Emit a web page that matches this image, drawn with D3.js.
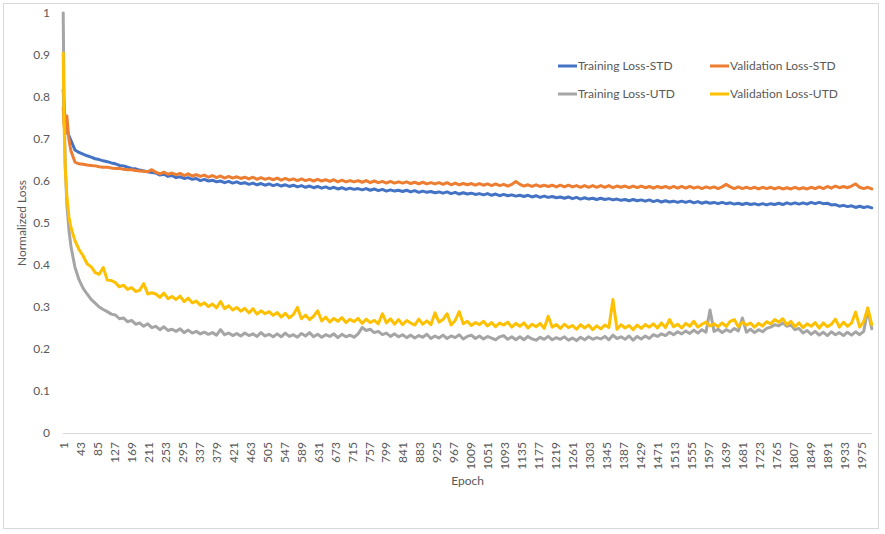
<!DOCTYPE html>
<html>
<head>
<meta charset="utf-8">
<script src="https://cdn.jsdelivr.net/npm/d3@7"></script>
<style>
  html, body { margin: 0; padding: 0; background: #fff; }
  svg { display: block; font-family: Lato, "Open Sans", "Noto Sans", sans-serif; }
</style>
</head>
<body>
<svg id="chart" width="885" height="534"></svg>
<script>
// ---------------- DATA ----------------
// Category axis: epochs 1..2000
const categories = d3.range(1, 2001);
const sampleEpochs = [1, 3, 6, 10, 15, 20].concat(d3.range(30, 2001, 10));

const xTickLabels = [1,43,85,127,169,211,253,295,337,379,421,463,505,547,589,631,673,715,757,799,841,883,925,967,1009,1051,1093,1135,1177,1219,1261,1303,1345,1387,1429,1471,1513,1555,1597,1639,1681,1723,1765,1807,1849,1891,1933,1975];
const yTickLabels = [0, 0.1, 0.2, 0.3, 0.4, 0.5, 0.6, 0.7, 0.8, 0.9, 1];

const seriesNames = ["Training Loss-STD", "Validation Loss-STD", "Training Loss-UTD", "Validation Loss-UTD"];
const seriesColors = ["#4472C4", "#ED7D31", "#A5A5A5", "#FFC000"];

const trainingSTD = [
  0.817, 0.780, 0.745, 0.722, 0.708, 0.697,
  0.674, 0.668, 0.664, 0.660, 0.657, 0.653, 0.651, 0.648, 0.646, 0.643,
  0.641, 0.637, 0.636, 0.633, 0.630, 0.629, 0.626, 0.624, 0.622, 0.620,
  0.619, 0.614, 0.616, 0.611, 0.613, 0.608, 0.610, 0.606, 0.608, 0.604,
  0.606, 0.601, 0.604, 0.600, 0.602, 0.598, 0.600, 0.596, 0.599, 0.595,
  0.598, 0.594, 0.596, 0.592, 0.595, 0.591, 0.594, 0.590, 0.593, 0.589,
  0.592, 0.588, 0.591, 0.587, 0.590, 0.586, 0.589, 0.585, 0.588, 0.584,
  0.587, 0.583, 0.586, 0.582, 0.585, 0.581, 0.584, 0.580, 0.583, 0.580,
  0.582, 0.579, 0.582, 0.578, 0.581, 0.577, 0.580, 0.576, 0.579, 0.576,
  0.578, 0.575, 0.578, 0.574, 0.577, 0.573, 0.576, 0.573, 0.575, 0.572,
  0.574, 0.571, 0.574, 0.570, 0.573, 0.569, 0.572, 0.569, 0.571, 0.568,
  0.570, 0.567, 0.570, 0.566, 0.569, 0.565, 0.568, 0.565, 0.567, 0.564,
  0.566, 0.563, 0.566, 0.562, 0.565, 0.561, 0.564, 0.561, 0.563, 0.560,
  0.562, 0.559, 0.562, 0.558, 0.561, 0.557, 0.560, 0.557, 0.559, 0.556,
  0.559, 0.556, 0.558, 0.555, 0.557, 0.554, 0.556, 0.553, 0.556, 0.553,
  0.555, 0.552, 0.555, 0.551, 0.554, 0.550, 0.553, 0.550, 0.552, 0.549,
  0.552, 0.549, 0.552, 0.548, 0.551, 0.547, 0.550, 0.547, 0.549, 0.546,
  0.549, 0.546, 0.548, 0.545, 0.547, 0.544, 0.547, 0.544, 0.546, 0.543,
  0.546, 0.543, 0.546, 0.544, 0.547, 0.544, 0.548, 0.545, 0.548, 0.545,
  0.548, 0.545, 0.549, 0.546, 0.549, 0.546, 0.547, 0.543, 0.544, 0.540,
  0.542, 0.539, 0.541, 0.537, 0.540, 0.537, 0.539, 0.536
];

const validationSTD = [
  0.775, 0.735, 0.712, 0.755, 0.700, 0.672,
  0.645, 0.641, 0.640, 0.638, 0.637, 0.636, 0.634, 0.633, 0.633, 0.631,
  0.630, 0.630, 0.628, 0.627, 0.627, 0.625, 0.624, 0.623, 0.622, 0.627,
  0.621, 0.617, 0.621, 0.616, 0.619, 0.615, 0.618, 0.613, 0.617, 0.612,
  0.615, 0.611, 0.614, 0.609, 0.613, 0.608, 0.612, 0.607, 0.611, 0.607,
  0.610, 0.606, 0.609, 0.605, 0.609, 0.604, 0.608, 0.604, 0.607, 0.603,
  0.607, 0.602, 0.606, 0.602, 0.605, 0.601, 0.605, 0.601, 0.604, 0.600,
  0.604, 0.600, 0.603, 0.599, 0.603, 0.598, 0.602, 0.598, 0.601, 0.598,
  0.601, 0.597, 0.601, 0.596, 0.600, 0.596, 0.599, 0.595, 0.599, 0.595,
  0.598, 0.595, 0.598, 0.594, 0.597, 0.593, 0.597, 0.593, 0.596, 0.593,
  0.596, 0.592, 0.596, 0.591, 0.595, 0.591, 0.594, 0.591, 0.594, 0.590,
  0.594, 0.590, 0.593, 0.589, 0.593, 0.589, 0.592, 0.588, 0.592, 0.599,
  0.592, 0.588, 0.591, 0.587, 0.591, 0.587, 0.590, 0.587, 0.590, 0.586,
  0.590, 0.586, 0.590, 0.586, 0.589, 0.585, 0.589, 0.585, 0.589, 0.585,
  0.589, 0.585, 0.589, 0.584, 0.588, 0.585, 0.588, 0.584, 0.588, 0.584,
  0.588, 0.584, 0.587, 0.583, 0.587, 0.584, 0.587, 0.583, 0.587, 0.583,
  0.587, 0.583, 0.587, 0.583, 0.586, 0.582, 0.586, 0.583, 0.586, 0.582,
  0.586, 0.592, 0.586, 0.582, 0.586, 0.582, 0.585, 0.582, 0.585, 0.581,
  0.585, 0.582, 0.585, 0.581, 0.585, 0.581, 0.584, 0.581, 0.585, 0.581,
  0.584, 0.581, 0.585, 0.582, 0.586, 0.582, 0.587, 0.583, 0.588, 0.584,
  0.587, 0.584, 0.588, 0.593, 0.585, 0.582, 0.585, 0.581
];

const trainingUTD = [
  1.000, 0.800, 0.640, 0.545, 0.485, 0.445,
  0.395, 0.365, 0.345, 0.331, 0.318, 0.309, 0.300, 0.294, 0.289, 0.283,
  0.281, 0.272, 0.274, 0.265, 0.268, 0.259, 0.262, 0.254, 0.260, 0.251,
  0.254, 0.246, 0.253, 0.244, 0.247, 0.242, 0.248, 0.239, 0.245, 0.238,
  0.242, 0.236, 0.240, 0.235, 0.239, 0.233, 0.246, 0.234, 0.238, 0.232,
  0.237, 0.231, 0.238, 0.232, 0.236, 0.230, 0.239, 0.231, 0.235, 0.229,
  0.236, 0.229, 0.238, 0.230, 0.234, 0.228, 0.237, 0.231, 0.239, 0.229,
  0.235, 0.228, 0.234, 0.230, 0.236, 0.227, 0.235, 0.229, 0.233, 0.228,
  0.236, 0.251, 0.244, 0.247, 0.239, 0.242, 0.234, 0.238, 0.230, 0.236,
  0.229, 0.234, 0.227, 0.233, 0.226, 0.232, 0.228, 0.235, 0.225, 0.231,
  0.226, 0.233, 0.225, 0.231, 0.227, 0.234, 0.224, 0.230, 0.233, 0.225,
  0.231, 0.224, 0.230, 0.226, 0.222, 0.229, 0.232, 0.223, 0.229, 0.222,
  0.229, 0.222, 0.230, 0.224, 0.221, 0.228, 0.223, 0.230, 0.222, 0.227,
  0.223, 0.229, 0.221, 0.226, 0.220, 0.228, 0.222, 0.229, 0.223, 0.227,
  0.224, 0.230, 0.222, 0.233, 0.225, 0.229, 0.223, 0.231, 0.221, 0.230,
  0.224, 0.231, 0.225, 0.234, 0.230, 0.236, 0.232, 0.240, 0.234, 0.241,
  0.236, 0.243, 0.237, 0.245, 0.238, 0.246, 0.240, 0.293, 0.242, 0.247,
  0.239, 0.246, 0.241, 0.249, 0.243, 0.274, 0.240, 0.247, 0.239, 0.246,
  0.241, 0.249, 0.252, 0.258, 0.255, 0.262, 0.254, 0.257, 0.246, 0.249,
  0.238, 0.244, 0.235, 0.242, 0.233, 0.240, 0.232, 0.241, 0.234, 0.239,
  0.232, 0.240, 0.233, 0.241, 0.234, 0.242, 0.293, 0.248
];

const validationUTD = [
  0.905, 0.740, 0.630, 0.565, 0.515, 0.490,
  0.458, 0.437, 0.422, 0.403, 0.396, 0.382, 0.378, 0.394, 0.364, 0.363,
  0.358, 0.348, 0.352, 0.342, 0.346, 0.337, 0.340, 0.356, 0.331, 0.334,
  0.331, 0.323, 0.333, 0.320, 0.325, 0.318, 0.326, 0.313, 0.321, 0.310,
  0.314, 0.304, 0.310, 0.301, 0.307, 0.298, 0.313, 0.296, 0.303, 0.293,
  0.299, 0.290, 0.297, 0.286, 0.296, 0.283, 0.291, 0.284, 0.289, 0.280,
  0.287, 0.276, 0.285, 0.274, 0.282, 0.299, 0.272, 0.281, 0.270, 0.278,
  0.291, 0.267, 0.276, 0.264, 0.273, 0.266, 0.275, 0.263, 0.271, 0.265,
  0.273, 0.261, 0.271, 0.263, 0.268, 0.260, 0.284, 0.262, 0.272, 0.259,
  0.270, 0.258, 0.268, 0.262, 0.257, 0.271, 0.259, 0.267, 0.258, 0.286,
  0.264, 0.270, 0.284, 0.257, 0.268, 0.289, 0.260, 0.266, 0.256, 0.263,
  0.258, 0.266, 0.255, 0.263, 0.253, 0.262, 0.257, 0.264, 0.252, 0.261,
  0.254, 0.262, 0.250, 0.259, 0.253, 0.261, 0.249, 0.278, 0.252, 0.258,
  0.249, 0.259, 0.251, 0.256, 0.247, 0.258, 0.250, 0.257, 0.246, 0.255,
  0.248, 0.257, 0.251, 0.318, 0.247, 0.258, 0.250, 0.256, 0.246, 0.257,
  0.249, 0.258, 0.252, 0.260, 0.250, 0.262, 0.251, 0.270, 0.253, 0.259,
  0.250, 0.261, 0.254, 0.266, 0.252, 0.259, 0.264, 0.255, 0.260, 0.253,
  0.262, 0.254, 0.266, 0.270, 0.253, 0.264, 0.257, 0.262, 0.252, 0.261,
  0.255, 0.265, 0.260, 0.270, 0.264, 0.272, 0.258, 0.266, 0.253, 0.262,
  0.251, 0.260, 0.254, 0.263, 0.250, 0.262, 0.253, 0.259, 0.271, 0.252,
  0.264, 0.254, 0.262, 0.288, 0.252, 0.265, 0.298, 0.258
];

const seriesValues = [trainingSTD, validationSTD, trainingUTD, validationUTD];

// ---------------- CHART ----------------
const svg = d3.select("#chart");
const textColor = "#595959";
const plot = { left: 63, right: 872, top: 13, bottom: 433 };

// chart frame
svg.append("rect")
  .attr("x", 3.5).attr("y", 3.5)
  .attr("width", 875).attr("height", 525)
  .attr("fill", "#fff").attr("stroke", "#d9d9d9").attr("stroke-width", 1);

const x = d3.scaleBand().domain(categories).range([plot.left, plot.right]).padding(0);
const y = d3.scaleLinear().domain([0, 1]).range([plot.bottom, plot.top]);
const cx = ep => x(ep) + x.bandwidth() / 2;

// y axis
const yAxis = svg.append("g")
  .attr("transform", `translate(${plot.left},0)`)
  .call(d3.axisLeft(y).tickValues(yTickLabels).tickSize(0).tickPadding(13)
    .tickFormat(d => String(d)));
yAxis.select(".domain").remove();
yAxis.selectAll("text").attr("fill", textColor).style("font-size", "12px")
  .style("font-family", "Lato, 'Open Sans', sans-serif");

// x axis
const xAxis = svg.append("g")
  .attr("transform", `translate(0,${plot.bottom})`)
  .call(d3.axisBottom(x).tickValues(xTickLabels).tickSize(0));
xAxis.select(".domain").attr("stroke", "#d9d9d9").attr("stroke-width", 1)
  .attr("d", `M${plot.left},0.5H${plot.right}`);
xAxis.selectAll("text")
  .attr("fill", textColor).style("font-size", "12px")
  .style("font-family", "Lato, 'Open Sans', sans-serif")
  .attr("transform", "rotate(-90)")
  .attr("text-anchor", "end")
  .attr("x", -9).attr("y", 0).attr("dy", "0.35em");

// lines
const line = d3.line()
  .x((d, i) => cx(sampleEpochs[i]))
  .y(d => y(d));

seriesValues.forEach((vals, si) => {
  svg.append("path")
    .datum(vals)
    .attr("fill", "none")
    .attr("stroke", seriesColors[si])
    .attr("stroke-width", 3)
    .attr("stroke-linejoin", "round")
    .attr("stroke-linecap", "round")
    .attr("d", line);
});

// axis titles
svg.append("text")
  .attr("x", (plot.left + plot.right) / 2).attr("y", 485)
  .attr("text-anchor", "middle").attr("fill", textColor)
  .style("font-size", "12px").text("Epoch");
svg.append("text")
  .attr("transform", `translate(26,${(plot.top + plot.bottom) / 2}) rotate(-90)`)
  .attr("text-anchor", "middle").attr("fill", textColor)
  .style("font-size", "12px").text("Normalized Loss");

// legend
const legendPos = [[558, 66], [710, 66], [558, 94], [710, 94]];
seriesNames.forEach((name, i) => {
  const [lx, ly] = legendPos[i];
  svg.append("line")
    .attr("x1", lx).attr("x2", lx + 19).attr("y1", ly).attr("y2", ly)
    .attr("stroke", seriesColors[i]).attr("stroke-width", 3);
  svg.append("text")
    .attr("x", lx + 20).attr("y", ly).attr("dy", "0.35em")
    .attr("fill", textColor).style("font-size", "12px").text(name);
});
</script>
</body>
</html>
